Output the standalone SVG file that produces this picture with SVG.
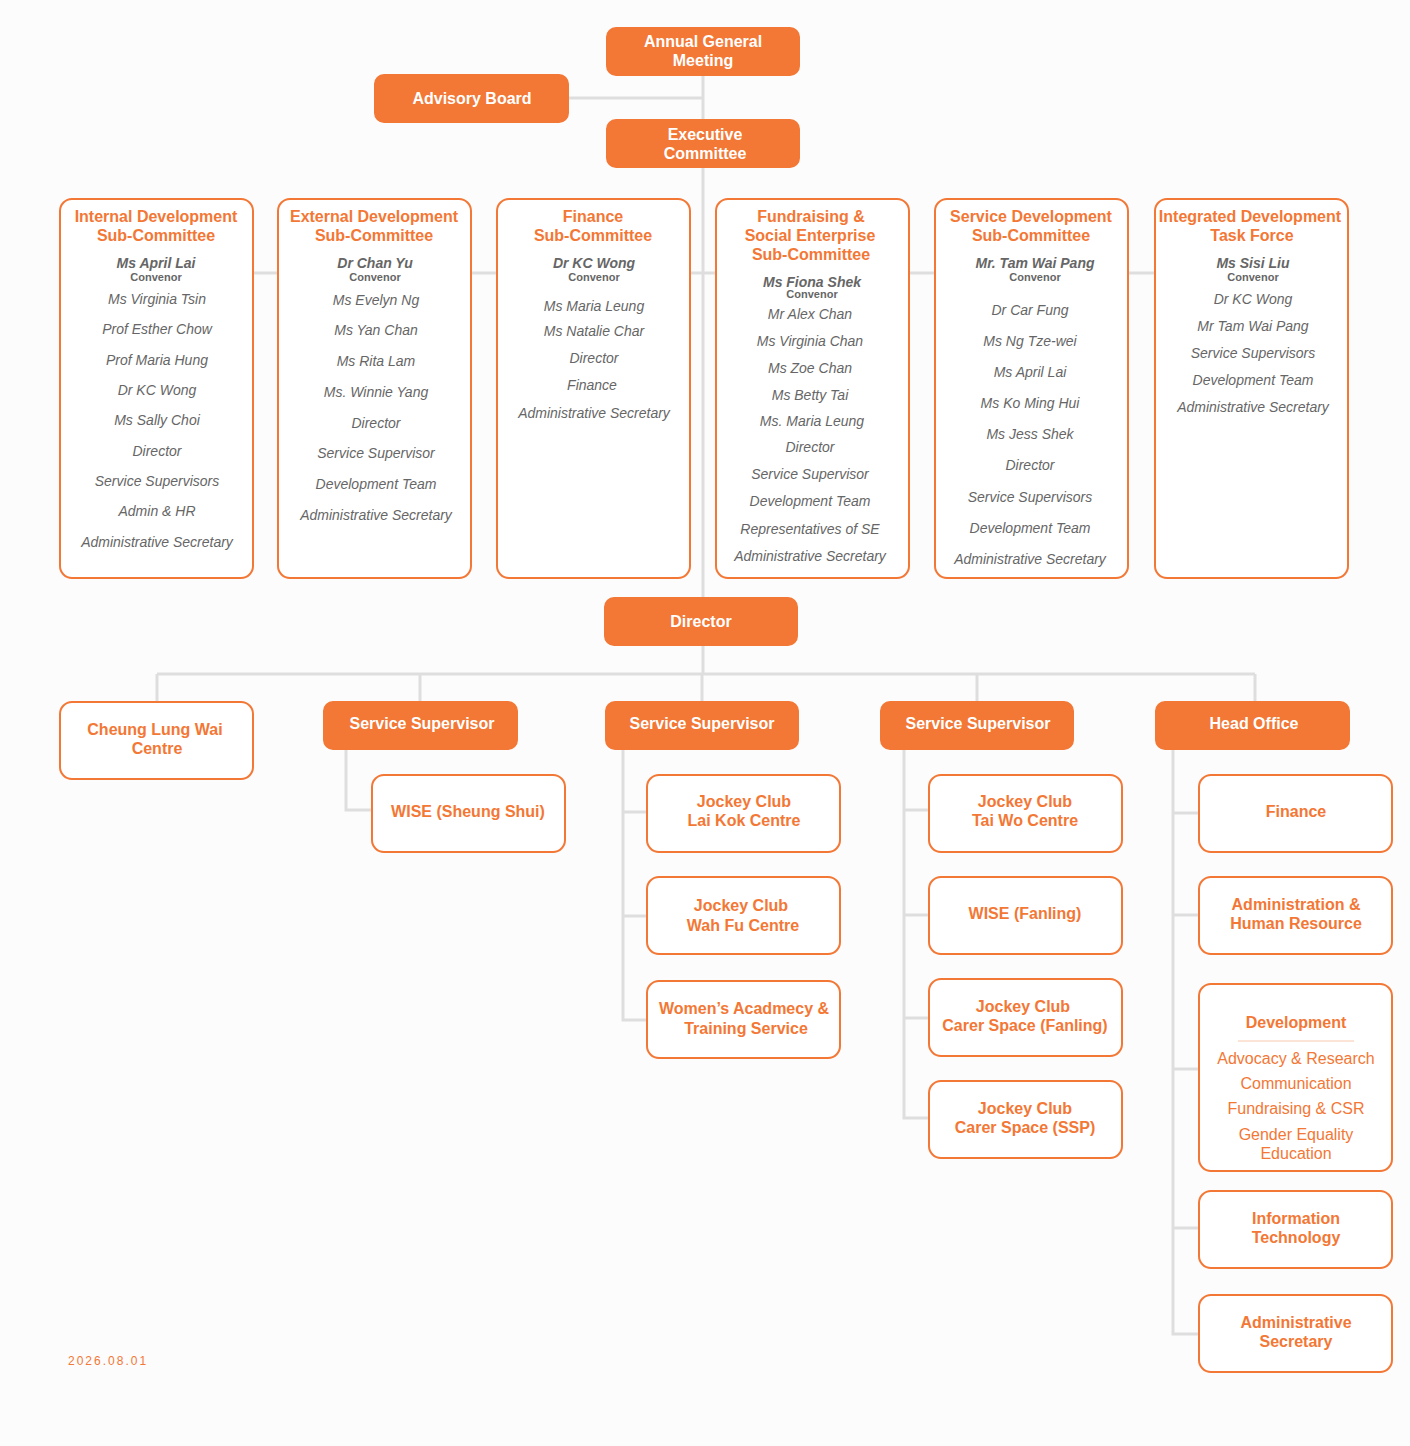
<svg xmlns="http://www.w3.org/2000/svg" width="1410" height="1446" viewBox="0 0 1410 1446">
<style>
text{font-family:"Liberation Sans",Arial,sans-serif;text-anchor:middle}
.f{fill:#F37735;stroke:#F37735;stroke-width:2}
.o{fill:#fff;stroke:#F37735;stroke-width:2}
.wt{fill:#fff;font-weight:bold;font-size:16px}
.ot{fill:#F37735;font-weight:bold;font-size:16px}
.on{fill:#F37735;font-size:16px}
.nm{fill:#666;font-style:italic;font-size:14px}
.cv{fill:#666;font-style:italic;font-weight:bold;font-size:14px}
.cs{fill:#666;font-weight:bold;font-size:11px}
.c{stroke:#dedede;stroke-width:3;fill:none}
</style>
<rect width="1410" height="1446" fill="#fcfcfc"/>
<g id="connectors">
<path class="c" d="M703 75V598M568 98H703M253 273H278M471 273H497M690 273H716M909 273H935M1128 273H1155M703 645V674M157 674H1255M157 674V702M420 674V702M702 674V702M977 674V702M1255 674V702"/>
<path class="c" d="M346 749V810H372M623 749V1020H647M623 812H647M623 916H647M904 749V1118H929M904 810H929M904 915H929M904 1018H929M1173 749V1334H1199M1173 813H1199M1173 915H1199M1173 1069H1199M1173 1228H1199"/>
</g>
<g id="agm"><rect class="f" x="607" y="28" width="192" height="47" rx="9"/><text class="wt" x="703" y="47">Annual General</text><text class="wt" x="703" y="66">Meeting</text></g>
<g id="advisory"><rect class="f" x="375" y="75" width="193" height="47" rx="9"/><text class="wt" x="472" y="104">Advisory Board</text></g>
<g id="exec"><rect class="f" x="607" y="120" width="192" height="47" rx="9"/><text class="wt" x="705" y="140">Executive</text><text class="wt" x="705" y="159">Committee</text></g>
<g id="c1"><rect class="o" x="60" y="199" width="193" height="379" rx="12"/><text class="ot" x="156" y="222">Internal Development</text><text class="ot" x="156" y="241">Sub-Committee</text><text class="cv" x="156" y="268">Ms April Lai</text><text class="cs" x="156" y="281">Convenor</text>
<text class="nm" x="157" y="304">Ms Virginia Tsin</text><text class="nm" x="157" y="334">Prof Esther Chow</text><text class="nm" x="157" y="365">Prof Maria Hung</text><text class="nm" x="157" y="395">Dr KC Wong</text><text class="nm" x="157" y="425">Ms Sally Choi</text><text class="nm" x="157" y="456">Director</text><text class="nm" x="157" y="486">Service Supervisors</text><text class="nm" x="157" y="516">Admin &amp; HR</text><text class="nm" x="157" y="547">Administrative Secretary</text></g>
<g id="c2"><rect class="o" x="278" y="199" width="193" height="379" rx="12"/><text class="ot" x="374" y="222">External Development</text><text class="ot" x="374" y="241">Sub-Committee</text><text class="cv" x="375" y="268">Dr Chan Yu</text><text class="cs" x="375" y="281">Convenor</text>
<text class="nm" x="376" y="305">Ms Evelyn Ng</text><text class="nm" x="376" y="335">Ms Yan Chan</text><text class="nm" x="376" y="366">Ms Rita Lam</text><text class="nm" x="376" y="397">Ms. Winnie Yang</text><text class="nm" x="376" y="428">Director</text><text class="nm" x="376" y="458">Service Supervisor</text><text class="nm" x="376" y="489">Development Team</text><text class="nm" x="376" y="520">Administrative Secretary</text></g>
<g id="c3"><rect class="o" x="497" y="199" width="193" height="379" rx="12"/><text class="ot" x="593" y="222">Finance</text><text class="ot" x="593" y="241">Sub-Committee</text><text class="cv" x="594" y="268">Dr KC Wong</text><text class="cs" x="594" y="281">Convenor</text>
<text class="nm" x="594" y="311">Ms Maria Leung</text><text class="nm" x="594" y="336">Ms Natalie Char</text><text class="nm" x="594" y="363">Director</text><text class="nm" x="592" y="390">Finance</text><text class="nm" x="594" y="418">Administrative Secretary</text></g>
<g id="c4"><rect class="o" x="716" y="199" width="193" height="379" rx="12"/><text class="ot" x="811" y="222">Fundraising &amp;</text><text class="ot" x="810" y="241">Social Enterprise</text><text class="ot" x="811" y="260">Sub-Committee</text><text class="cv" x="812" y="287">Ms Fiona Shek</text><text class="cs" x="812" y="298">Convenor</text>
<text class="nm" x="810" y="319">Mr Alex Chan</text><text class="nm" x="810" y="346">Ms Virginia Chan</text><text class="nm" x="810" y="373">Ms Zoe Chan</text><text class="nm" x="810" y="400">Ms Betty Tai</text><text class="nm" x="812" y="426">Ms. Maria Leung</text><text class="nm" x="810" y="452">Director</text><text class="nm" x="810" y="479">Service Supervisor</text><text class="nm" x="810" y="506">Development Team</text><text class="nm" x="810" y="534">Representatives of SE</text><text class="nm" x="810" y="561">Administrative Secretary</text></g>
<g id="c5"><rect class="o" x="935" y="199" width="193" height="379" rx="12"/><text class="ot" x="1031" y="222">Service Development</text><text class="ot" x="1031" y="241">Sub-Committee</text><text class="cv" x="1035" y="268">Mr. Tam Wai Pang</text><text class="cs" x="1035" y="281">Convenor</text>
<text class="nm" x="1030" y="315">Dr Car Fung</text><text class="nm" x="1030" y="346">Ms Ng Tze-wei</text><text class="nm" x="1030" y="377">Ms April Lai</text><text class="nm" x="1030" y="408">Ms Ko Ming Hui</text><text class="nm" x="1030" y="439">Ms Jess Shek</text><text class="nm" x="1030" y="470">Director</text><text class="nm" x="1030" y="502">Service Supervisors</text><text class="nm" x="1030" y="533">Development Team</text><text class="nm" x="1030" y="564">Administrative Secretary</text></g>
<g id="c6"><rect class="o" x="1155" y="199" width="193" height="379" rx="12"/><text class="ot" x="1250" y="222">Integrated Development</text><text class="ot" x="1252" y="241">Task Force</text><text class="cv" x="1253" y="268">Ms Sisi Liu</text><text class="cs" x="1253" y="281">Convenor</text>
<text class="nm" x="1253" y="304">Dr KC Wong</text><text class="nm" x="1253" y="331">Mr Tam Wai Pang</text><text class="nm" x="1253" y="358">Service Supervisors</text><text class="nm" x="1253" y="385">Development Team</text><text class="nm" x="1253" y="412">Administrative Secretary</text></g>
<g id="director"><rect class="f" x="605" y="598" width="192" height="47" rx="9"/><text class="wt" x="701" y="627">Director</text></g>
<g id="cheung"><rect class="o" x="60" y="702" width="193" height="77" rx="12"/><text class="ot" x="155" y="735">Cheung Lung Wai</text><text class="ot" x="157" y="754">Centre</text></g>
<g id="ss1"><rect class="f" x="324" y="702" width="193" height="47" rx="9"/><text class="wt" x="422" y="729">Service Supervisor</text></g>
<g id="ss2"><rect class="f" x="606" y="702" width="192" height="47" rx="9"/><text class="wt" x="702" y="729">Service Supervisor</text></g>
<g id="ss3"><rect class="f" x="881" y="702" width="192" height="47" rx="9"/><text class="wt" x="978" y="729">Service Supervisor</text></g>
<g id="ho"><rect class="f" x="1156" y="702" width="193" height="47" rx="9"/><text class="wt" x="1254" y="729">Head Office</text></g>
<g id="wise-ss"><rect class="o" x="372" y="775" width="193" height="77" rx="12"/><text class="ot" x="468" y="817">WISE (Sheung Shui)</text></g>
<g id="lk"><rect class="o" x="647" y="775" width="193" height="77" rx="12"/><text class="ot" x="744" y="807">Jockey Club</text><text class="ot" x="744" y="826">Lai Kok Centre</text></g>
<g id="wf"><rect class="o" x="647" y="877" width="193" height="77" rx="12"/><text class="ot" x="741" y="911">Jockey Club</text><text class="ot" x="743" y="931">Wah Fu Centre</text></g>
<g id="wa"><rect class="o" x="647" y="981" width="193" height="77" rx="12"/><text class="ot" x="744" y="1014">Women’s Acadmecy &amp;</text><text class="ot" x="746" y="1034">Training Service</text></g>
<g id="tw"><rect class="o" x="929" y="775" width="193" height="77" rx="12"/><text class="ot" x="1025" y="807">Jockey Club</text><text class="ot" x="1025" y="826">Tai Wo Centre</text></g>
<g id="wfl"><rect class="o" x="929" y="877" width="193" height="77" rx="12"/><text class="ot" x="1025" y="919">WISE (Fanling)</text></g>
<g id="csf"><rect class="o" x="929" y="979" width="193" height="77" rx="12"/><text class="ot" x="1023" y="1012">Jockey Club</text><text class="ot" x="1025" y="1031">Carer Space (Fanling)</text></g>
<g id="csp"><rect class="o" x="929" y="1081" width="193" height="77" rx="12"/><text class="ot" x="1025" y="1114">Jockey Club</text><text class="ot" x="1025" y="1133">Carer Space (SSP)</text></g>
<g id="fin"><rect class="o" x="1199" y="775" width="193" height="77" rx="12"/><text class="ot" x="1296" y="817">Finance</text></g>
<g id="ahr"><rect class="o" x="1199" y="877" width="193" height="77" rx="12"/><text class="ot" x="1296" y="910">Administration &amp;</text><text class="ot" x="1296" y="929">Human Resource</text></g>
<g id="dev"><rect class="o" x="1199" y="984" width="193" height="187" rx="12"/><text class="ot" x="1296" y="1028">Development</text><line x1="1238" y1="1041" x2="1354" y2="1041" stroke="#f8c9ad" stroke-width="1"/><text class="on" x="1296" y="1064">Advocacy &amp; Research</text><text class="on" x="1296" y="1089">Communication</text><text class="on" x="1296" y="1114">Fundraising &amp; CSR</text><text class="on" x="1296" y="1140">Gender Equality</text><text class="on" x="1296" y="1159">Education</text></g>
<g id="it"><rect class="o" x="1199" y="1191" width="193" height="77" rx="12"/><text class="ot" x="1296" y="1224">Information</text><text class="ot" x="1296" y="1243">Technology</text></g>
<g id="as"><rect class="o" x="1199" y="1295" width="193" height="77" rx="12"/><text class="ot" x="1296" y="1328">Administrative</text><text class="ot" x="1296" y="1347">Secretary</text></g>
<text x="68" y="1365" fill="#F37735" font-size="12" letter-spacing="2" style="text-anchor:start">2026.08.01</text>
</svg>
